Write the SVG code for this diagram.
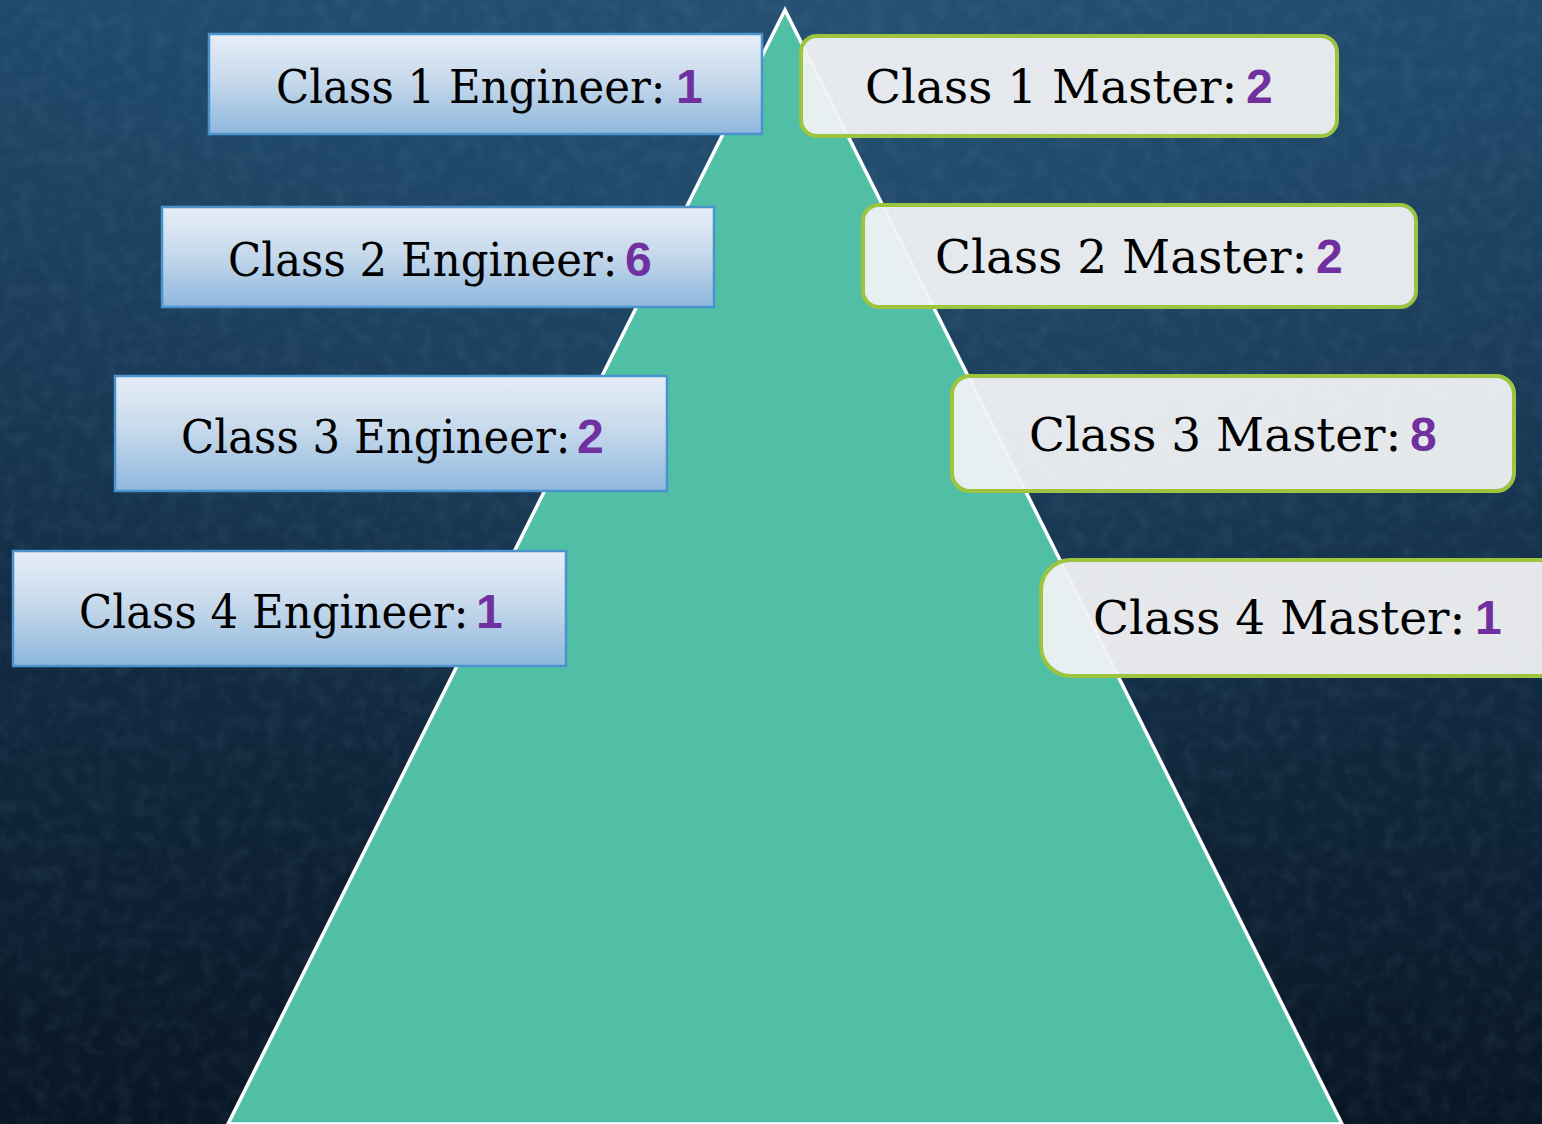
<svg xmlns="http://www.w3.org/2000/svg" width="1542" height="1124" viewBox="0 0 1542 1124">
<defs>
<linearGradient id="bg" x1="0" y1="0" x2="0" y2="1">
<stop offset="0" stop-color="#1F4767"/>
<stop offset="0.45" stop-color="#15314B"/>
<stop offset="1" stop-color="#091624"/>
</linearGradient>
<radialGradient id="glow" cx="0.55" cy="0.05" r="0.7">
<stop offset="0" stop-color="#2A5A80" stop-opacity="0.5"/>
<stop offset="1" stop-color="#2A5A80" stop-opacity="0"/>
</radialGradient>
<linearGradient id="blueBox" x1="0" y1="0" x2="0" y2="1">
<stop offset="0" stop-color="#E6EEF7"/>
<stop offset="0.45" stop-color="#C8DAEC"/>
<stop offset="1" stop-color="#8EB7DD"/>
</linearGradient>
<filter id="tex" x="0" y="0" width="100%" height="100%">
<feTurbulence type="fractalNoise" baseFrequency="0.06" numOctaves="3" seed="4"/>
<feColorMatrix type="matrix" values="0 0 0 0 0.35  0 0 0 0 0.55  0 0 0 0 0.75  0 0 0 1.1 -0.45"/>
</filter>
<style>
.eng{fill:url(#blueBox);stroke:#4A93CC;stroke-width:2.5}
.mas{fill:#F0F1F3;fill-opacity:0.95;stroke:#9CC43F;stroke-width:4}
.lbl{font-family:"DejaVu Serif","Liberation Serif",serif;font-size:47px;fill:#000}
.num{font-family:"Liberation Sans","DejaVu Sans",sans-serif;font-weight:bold;font-size:48px;fill:#7030A0}
</style>
</defs>
<rect width="1542" height="1124" fill="url(#bg)"/>
<rect width="1542" height="1124" fill="url(#glow)"/>
<rect width="1542" height="1124" filter="url(#tex)" opacity="0.15"/>
<polygon id="pyramid" points="785,10 228,1124 1342,1124" fill="#50BFA5" stroke="#FFFFFF" stroke-width="3.5" stroke-linejoin="miter"/>
<g id="connectors"></g>
<g id="eng1"><rect class="eng" x="209" y="34" width="553" height="100"/><text class="lbl" transform="translate(276 103) scale(0.925 1)">Class 1 Engineer:</text><text class="num" x="676" y="103">1</text></g>
<g id="eng2"><rect class="eng" x="162" y="207" width="552" height="100"/><text class="lbl" transform="translate(228 276) scale(0.925 1)">Class 2 Engineer:</text><text class="num" x="625" y="276">6</text></g>
<g id="eng3"><rect class="eng" x="115" y="376" width="552" height="115"/><text class="lbl" transform="translate(181 453) scale(0.925 1)">Class 3 Engineer:</text><text class="num" x="577" y="453">2</text></g>
<g id="eng4"><rect class="eng" x="13" y="551" width="553" height="115"/><text class="lbl" transform="translate(79 628) scale(0.925 1)">Class 4 Engineer:</text><text class="num" x="476" y="628">1</text></g>
<g id="mas1"><rect class="mas" x="801" y="36" width="536" height="100" rx="16"/><text class="lbl" x="865" y="103">Class 1 Master:</text><text class="num" x="1246" y="103">2</text></g>
<g id="mas2"><rect class="mas" x="863" y="205" width="553" height="102" rx="16"/><text class="lbl" x="935" y="273">Class 2 Master:</text><text class="num" x="1316" y="273">2</text></g>
<g id="mas3"><rect class="mas" x="952" y="376" width="562" height="115" rx="18"/><text class="lbl" x="1029" y="451">Class 3 Master:</text><text class="num" x="1410" y="451">8</text></g>
<g id="mas4"><rect class="mas" x="1041" y="560" width="530" height="116" rx="30"/><text class="lbl" x="1093" y="634">Class 4 Master:</text><text class="num" x="1475" y="634">1</text></g>
</svg>
